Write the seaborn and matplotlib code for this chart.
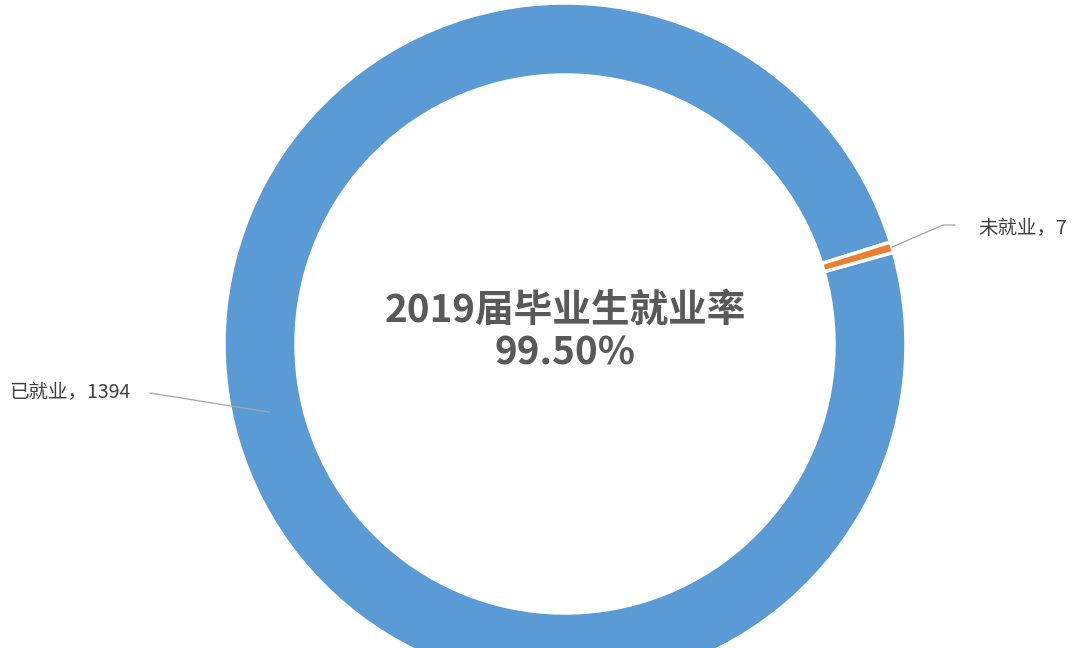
import numpy as np
import matplotlib
matplotlib.use('Agg')
import matplotlib.pyplot as plt
import seaborn as sns

# data
labels = ['已就业', '未就业']
counts = [1394, 7]
title_text = '2019届毕业生就业率'
rate_text = '99.50%'

sns.set_theme(style='white')
plt.rcParams['font.family'] = ['Noto Sans CJK SC', 'DejaVu Sans']

colors = ['#5B9BD5', '#ED7D31']

fig = plt.figure(figsize=(10.76, 6.48), dpi=100)
ax = fig.add_axes([0, 0, 1, 1])

cx, cy, R = 565, 304, 341
wedges, _ = ax.pie(counts, colors=colors, center=(cx, cy), radius=R,
                   startangle=15.6, counterclock=False, frame=True,
                   wedgeprops=dict(width=72, edgecolor='white', linewidth=2.5))
ax.set_xlim(0, 1076)
ax.set_ylim(0, 648)
ax.set_aspect('equal')
ax.axis('off')

# leader lines and labels
lab_color = '#404040'
line_color = '#A6A6A6'

# 已就业 label (left)
ang = np.deg2rad(193)
p0 = (cx + 303 * np.cos(ang), cy + 303 * np.sin(ang))
ax.plot([p0[0], 150], [p0[1], 255], color=line_color, lw=0.9)
ax.text(130, 255, f'{labels[0]}，{counts[0]}', ha='right', va='center',
        fontsize=14, color=lab_color)

# 未就业 label (right)
w = wedges[1]
mid = np.deg2rad((w.theta1 + w.theta2) / 2)
p1 = (cx + R * np.cos(mid), cy + R * np.sin(mid))
ax.plot([p1[0], 943, 955], [p1[1], 423, 423], color=line_color, lw=0.9)
ax.text(978, 420, f'{labels[1]}，{counts[1]}', ha='left', va='center',
        fontsize=14, color=lab_color)

# centre text
ax.text(cx, 338, title_text, ha='center', va='center', fontsize=27.8,
        fontweight='bold', color='#595959')
ax.text(cx, 295, rate_text, ha='center', va='center', fontsize=27.8,
        fontweight='bold', color='#595959')

fig.savefig('out.png', dpi=100, facecolor='white')
